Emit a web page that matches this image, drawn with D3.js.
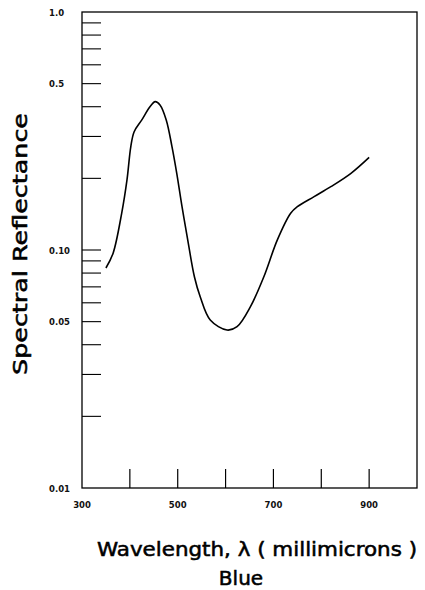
<!DOCTYPE html>
<html>
<head>
<meta charset="utf-8">
<script src="https://cdn.jsdelivr.net/npm/d3@7"></script>
<style>
html,body{margin:0;padding:0;background:#fff;}
svg{display:block;}
</style>
</head>
<body>
<svg id="chart" width="425" height="590"></svg>
<script>
// Data
const wavelengths = [350, 365, 383, 394, 402, 409, 425, 442, 453, 463, 476, 488, 498, 509, 521, 535, 547, 568, 603, 624, 652, 680, 708, 736, 750, 785, 820, 862, 900];
const reflectance = [0.084, 0.097, 0.143, 0.197, 0.272, 0.314, 0.352, 0.400, 0.420, 0.407, 0.352, 0.272, 0.210, 0.152, 0.110, 0.077, 0.0636, 0.0508, 0.0461, 0.0476, 0.0578, 0.0772, 0.110, 0.1426, 0.152, 0.1675, 0.1845, 0.210, 0.245];
const xTickValues = [400, 500, 600, 700, 800, 900];
const xTickLabels = [300, 500, 700, 900];
const yTickValues = [0.02,0.03,0.04,0.05,0.06,0.07,0.08,0.09,0.1,0.2,0.3,0.4,0.5,0.6,0.7,0.8,0.9];
const yTickLabels = [[1.0,"1.0"],[0.5,"0.5"],[0.1,"0.10"],[0.05,"0.05"],[0.01,"0.01"]];
const xTitle = "Wavelength, \u03bb ( millimicrons )";
const yTitle = "Spectral Reflectance";
const subTitle = "Blue";

const L = 82, R = 417, T = 12, B = 488;
const svg = d3.select("#chart");
const x = d3.scaleLinear().domain([300, 1000]).range([L, R]);
const y = d3.scaleLog().domain([0.01, 1]).range([B, T]);

// frame
svg.append("rect").attr("x", L).attr("y", T).attr("width", R - L).attr("height", B - T)
  .attr("fill", "none").attr("stroke", "#000").attr("stroke-width", 1.3);

// y ticks (inward)
svg.append("g").selectAll("line").data(yTickValues).join("line")
  .attr("x1", L).attr("x2", L + 19)
  .attr("y1", d => y(d)).attr("y2", d => y(d))
  .attr("stroke", "#000").attr("stroke-width", 1.1);

// x ticks (inward)
svg.append("g").selectAll("line").data(xTickValues).join("line")
  .attr("x1", d => x(d)).attr("x2", d => x(d))
  .attr("y1", B).attr("y2", B - 19)
  .attr("stroke", "#000").attr("stroke-width", 1.2);

const lblFont = "'DejaVu Sans', sans-serif";
svg.append("g").selectAll("text").data(yTickLabels).join("text")
  .attr("x", 49).attr("y", d => y(d[0]) + 3.5)
  .attr("font-family", lblFont).attr("font-size", 8.5).attr("font-weight", "bold")
  .attr("fill", "#111").text(d => d[1]);

svg.append("g").selectAll("text").data(xTickLabels).join("text")
  .attr("x", d => x(d)).attr("y", 508).attr("text-anchor", "middle")
  .attr("font-family", lblFont).attr("font-size", 8.5).attr("font-weight", "bold")
  .attr("fill", "#111").text(d => d);

// curve
const pts = wavelengths.map((w, i) => [w, reflectance[i]]);
svg.append("path").datum(pts)
  .attr("d", d3.line().x(d => x(d[0])).y(d => y(d[1])).curve(d3.curveCatmullRom.alpha(0.5)))
  .attr("fill", "none").attr("stroke", "#000").attr("stroke-width", 1.6);

// titles
const tFont = "'DejaVu Sans', sans-serif";
function title(sel) {
  return sel.attr("font-family", tFont).attr("font-size", 20)
    .attr("fill", "#000").attr("stroke", "#000").attr("stroke-width", 0.55);
}
title(svg.append("text").attr("x", 97).attr("y", 556)
  .attr("textLength", 320).attr("lengthAdjust", "spacingAndGlyphs")
  .text(xTitle));
title(svg.append("text").attr("x", 241).attr("y", 585).attr("text-anchor", "middle")
  .text(subTitle));
title(svg.append("text").attr("transform", "translate(27,375) rotate(-90)")
  .attr("textLength", 262).attr("lengthAdjust", "spacingAndGlyphs")
  .text(yTitle));
</script>
</body>
</html>
